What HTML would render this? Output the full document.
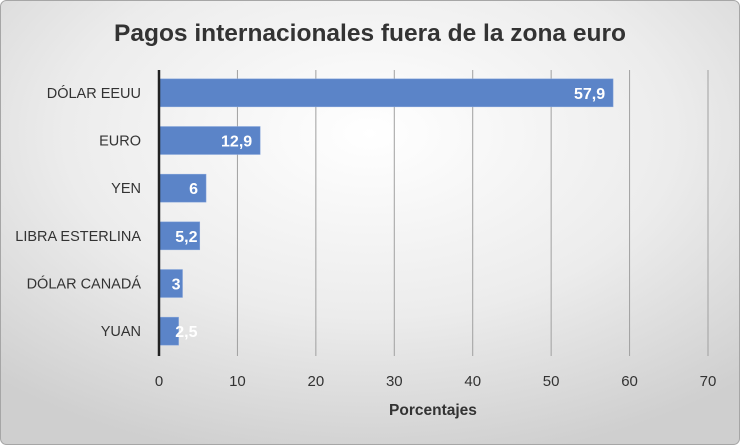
<!DOCTYPE html>
<html><head><meta charset="utf-8"><style>
html,body{margin:0;padding:0;width:740px;height:445px;overflow:hidden;background:#fff}
svg{display:block}
text{font-family:"Liberation Sans","DejaVu Sans",sans-serif}
</style></head><body>
<svg id="chart" width="740" height="445">
<defs>
<radialGradient id="bg" cx="0.5" cy="0.3" r="0.75">
<stop offset="0" stop-color="#ffffff"/>
<stop offset="0.55" stop-color="#ececec"/>
<stop offset="1" stop-color="#cfcfcf"/>
</radialGradient>
</defs>
<rect x="0.5" y="0.5" width="739" height="444" rx="6" fill="url(#bg)" stroke="#a6a6a6"/>
<text x="370" y="41" text-anchor="middle" font-size="24.5" font-weight="bold" fill="#333">Pagos internacionales fuera de la zona euro</text>
<text x="433" y="415" text-anchor="middle" font-size="15.5" font-weight="bold" fill="#333">Porcentajes</text>
<g id="grid"></g><g id="bars"></g><g id="labels"></g>
</svg>
<script>
const categories=["DÓLAR EEUU","EURO","YEN","LIBRA ESTERLINA","DÓLAR CANADÁ","YUAN"];
const values=[57.9,12.9,6,5.2,3,2.5];
const valueLabels=["57,9","12,9","6","5,2","3","2,5"];
const ticks=[0,10,20,30,40,50,60,70];
const NS="http://www.w3.org/2000/svg";
const x0=159,x1=708,yTop=70,yBot=356,xMax=70;
const xs=v=>x0+(v/xMax)*(x1-x0);
const band=(yBot-yTop)/categories.length;
const yc=i=>yTop+band*(i+0.5)-1;
function mk(tag,attrs,parent){const e=document.createElementNS(NS,tag);for(const k in attrs)e.setAttribute(k,attrs[k]);document.getElementById(parent).appendChild(e);return e;}
ticks.forEach(t=>{
 if(t>0){const l=mk('line',{x1:xs(t),x2:xs(t),y1:yTop,y2:yBot,stroke:'#a0a0a0','stroke-width':1},'grid');
 
 }
 const tx=mk('text',{x:xs(t),y:386,'text-anchor':'middle','font-size':15,fill:'#333'},'grid');
 tx.textContent=t;
 
 
});
categories.forEach((c,i)=>{
 const y=yc(i);
 const r=mk('rect',{x:x0,y:y-14,width:xs(values[i])-x0,height:28,fill:'#5b84c8',stroke:'#8aa8dc','stroke-width':0.5},'bars');
 
 
 const cl=mk('text',{x:141,y:y+5,'text-anchor':'end','font-size':14.5,fill:'#333'},'labels');
 cl.textContent=c;
 
 
 const w=valueLabels[i].length*8.5;
 const xe=Math.max(xs(values[i])-8,x0+13+w);
 const vl=mk('text',{x:xe,y:y+6,'text-anchor':'end','font-size':16,'font-weight':'bold',fill:'#fff'},'labels');
 vl.textContent=valueLabels[i];
 
 
});
const ax=mk('line',{x1:x0,x2:x0,y1:yTop,y2:yBot,stroke:'#222','stroke-width':2.5},'labels');


</script>
</body></html>
